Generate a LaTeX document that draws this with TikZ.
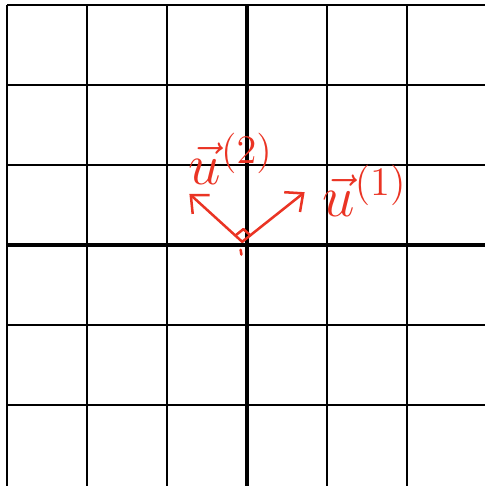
\documentclass[tikz,border=0pt]{standalone}
\usetikzlibrary{arrows.meta,calc}
\definecolor{inkred}{RGB}{234,52,36}
\begin{document}
\begin{tikzpicture}[x=1cm,y=1cm,
    gridline/.style={black, line width=0.45pt},
    axisline/.style={black, line width=1.1pt},
    pen/.style={inkred, line width=0.9pt, line cap=round, line join=round},
    vecline/.style={pen, -{Straight Barb[length=5pt,width=9pt]}},
    veclabel/.style={inkred, font=\huge}]
  \useasboundingbox (-3.0875,-3.0125) rectangle (2.9625,3.0625);
  % grid
  \foreach \x in {-3,...,2}
    \draw[gridline] (\x,-3.1) -- (\x,3);
  \foreach \y in {-2,...,3}
    \draw[gridline] (-3,\y) -- (3.1,\y);
  % axes
  \draw[axisline] (-3,0) -- (3.1,0);
  \draw[axisline] (0,-3.1) -- (0,3);
  % vectors
  \coordinate (O) at (-0.06,0.04);
  \coordinate (u1) at (0.72,0.66);
  \coordinate (u2) at (-0.72,0.64);
  \draw[vecline] (O) -- (u1);
  \draw[vecline] (O) -- (u2);
  % right angle mark
  \coordinate (a) at ($(O)!0.13!(u1)$);
  \coordinate (b) at ($(O)!0.13!(u2)$);
  \draw[pen] (a) -- ($(a)+(b)-(O)$) -- (b);
  \draw[pen] (-0.08,-0.06) -- (-0.07,-0.12);
  % labels
  \node[veclabel] (l1) at (1.47,0.68) {$\vec{u}^{(1)}$};
  \node[veclabel] (l2) at (-0.2,1.08) {$\vec{u}^{(2)}$};
\end{tikzpicture}
\end{document}
